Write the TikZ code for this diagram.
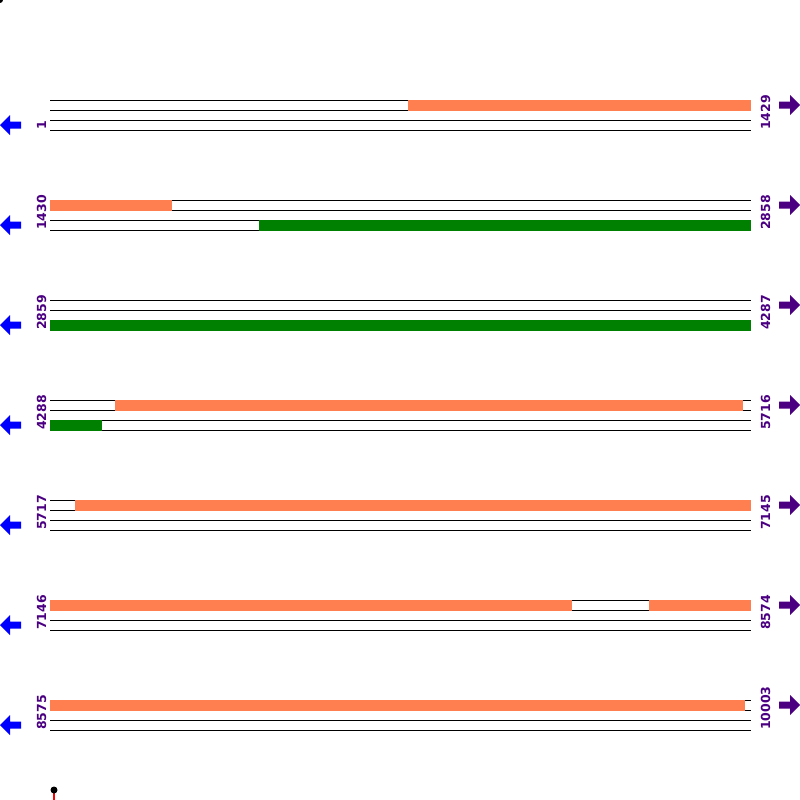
\documentclass[tikz,border=0pt]{standalone}
\usepackage{fontspec}
\setmainfont{DejaVu Sans}
\definecolor{seqorange}{HTML}{FF7F50}
\definecolor{seqgreen}{HTML}{008000}
\definecolor{seqpurple}{HTML}{4B0082}
\tikzset{
	strand/.style={black,line width=1pt},
	orf/.style={fill=seqorange},
	orfgreen/.style={fill=seqgreen},
	poslabel/.style={text=seqpurple,rotate=90,anchor=base west,inner sep=0pt,font=\fontsize{12.5}{13}\selectfont\bfseries},
}

\begin{document}
\begin{tikzpicture}[x=1pt,y=-1pt]
		\useasboundingbox (0,0) rectangle (800,800);
		\fill (0,0) circle (3);
		% strands and direction arrows of each row
		\foreach \y in {0,100,...,600}{
			\foreach \d in {100,110,120,130}
				\draw[strand] (50,\y+\d) -- (751,\y+\d);
			\fill[blue] (0,\y+125) -- (10,\y+115) -- (10,\y+121.5) -- (21,\y+121.5) -- (21,\y+128.5) -- (10,\y+128.5) -- (10,\y+135) -- cycle;
			\fill[seqpurple] (800,\y+105) -- (790,\y+95) -- (790,\y+101.5) -- (779,\y+101.5) -- (779,\y+108.5) -- (790,\y+108.5) -- (790,\y+115) -- cycle;
		}
		\fill[orf] (408,99.5) rectangle (751,110.5);
		\fill[orf] (50,199.5) rectangle (172,210.5);
		\fill[orfgreen] (259,219.5) rectangle (751,230.5);
		\fill[orfgreen] (50,319.5) rectangle (751,330.5);
		\fill[orf] (115,399.5) rectangle (743,410.5);
		\fill[orfgreen] (50,419.5) rectangle (102,430.5);
		\fill[orf] (75,499.5) rectangle (751,510.5);
		\fill[orf] (50,599.5) rectangle (572,610.5);
		\fill[orf] (649,599.5) rectangle (751,610.5);
		\fill[orf] (50,699.5) rectangle (745,710.5);
		\node[poslabel] (s1) at (46,130) {1};
		\node[poslabel] (e1) at (770,130) {1429};
		\node[poslabel] (s2) at (46,230) {1430};
		\node[poslabel] (e2) at (770,230) {2858};
		\node[poslabel] (s3) at (46,330) {2859};
		\node[poslabel] (e3) at (770,330) {4287};
		\node[poslabel] (s4) at (46,430) {4288};
		\node[poslabel] (e4) at (770,430) {5716};
		\node[poslabel] (s5) at (46,530) {5717};
		\node[poslabel] (e5) at (770,530) {7145};
		\node[poslabel] (s6) at (46,630) {7146};
		\node[poslabel] (e6) at (770,630) {8574};
		\node[poslabel] (s7) at (46,730) {8575};
		\node[poslabel] (e7) at (770,730) {10003};
		\draw[red,line width=1.5pt] (54,790) -- (54,800);
		\fill (54,790) circle (3.5);
	\end{tikzpicture}
\end{document}
